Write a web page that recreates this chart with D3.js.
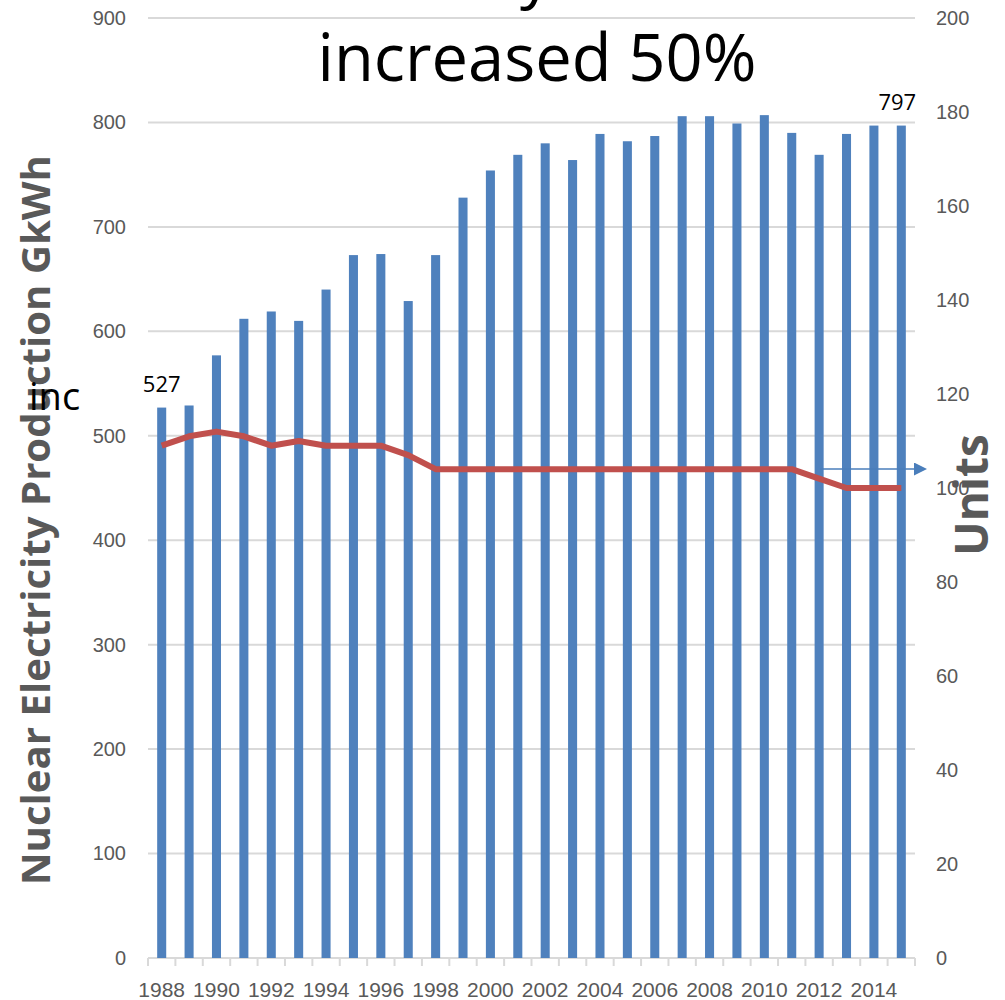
<!DOCTYPE html>
<html lang="en">
<head>
	<meta charset="UTF-8">
	<title>Nuclear production</title>
	<script src="https://cdn.jsdelivr.net/npm/d3@7"></script>
	<style>
		html,body{margin:0;padding:0;background:#fff;}
		svg{display:block;font-family:"Open Sans",sans-serif;}
		.tick text{fill:#595959;}
	</style>
</head>
<body>
	<svg id="svg" width="1005" height="1000"></svg>
	<script>
		// data
		var years = d3.range(1988, 2016);
		var production = [527, 529, 577, 612, 619, 610, 640, 673, 674, 629, 673, 728, 754, 769, 780, 764,
			789, 782, 787, 806, 806, 799, 807, 790, 769, 789, 797, 797];
		var units = [109, 111, 112, 111, 109, 110, 109, 109, 109, 107, 104, 104, 104, 104, 104, 104,
			104, 104, 104, 104, 104, 104, 104, 104, 102, 100, 100, 100];
		var leftTicks = [0, 100, 200, 300, 400, 500, 600, 700, 800, 900];
		var rightTicks = [0, 20, 40, 60, 80, 100, 120, 140, 160, 180, 200];
		var yearLabels = years.filter(function(d){ return d % 2 === 0; });

		var svg = d3.select("svg");
		var pLeft = 148, pRight = 915, pTop = 18, pBottom = 958;

		var x = d3.scaleBand().domain(years).range([pLeft, pRight]).padding(0);
		var yL = d3.scaleLinear().domain([0, 900]).range([pBottom, pTop]);
		var yR = d3.scaleLinear().domain([0, 200]).range([pBottom, pTop]);
		var bw = x.bandwidth() * 0.33;

		// gridlines
		svg.append("g").selectAll("line").data(leftTicks).enter().append("line")
			.attr("x1", pLeft).attr("x2", pRight)
			.attr("y1", function(d){ return yL(d); }).attr("y2", function(d){ return yL(d); })
			.attr("stroke", "#d9d9d9").attr("stroke-width", 2);

		// category tick marks
		svg.append("g").selectAll("line").data(years.concat([null])).enter().append("line")
			.attr("x1", function(d, i){ return pLeft + i * x.step(); })
			.attr("x2", function(d, i){ return pLeft + i * x.step(); })
			.attr("y1", pBottom).attr("y2", pBottom + 8)
			.attr("stroke", "#d9d9d9").attr("stroke-width", 2);

		// left axis
		var gl = svg.append("g").attr("transform", "translate(126,0)")
			.call(d3.axisLeft(yL).tickValues(leftTicks).tickSize(0).tickPadding(0));
		gl.select(".domain").remove();
		gl.selectAll("text").attr("font-size", 20);

		// right axis
		var gr = svg.append("g").attr("transform", "translate(936,0)")
			.call(d3.axisRight(yR).tickValues(rightTicks).tickSize(0).tickPadding(0));
		gr.select(".domain").remove();
		gr.selectAll("text").attr("font-size", 20);

		// bottom axis
		var gb = svg.append("g").attr("transform", "translate(0," + (pBottom + 18) + ")")
			.call(d3.axisBottom(x).tickValues(yearLabels).tickSize(0).tickPadding(0));
		gb.select(".domain").remove();
		gb.selectAll("text").attr("font-size", 21).attr("dy", "1em");

		// bars
		svg.append("g").selectAll("rect").data(production).enter().append("rect")
			.attr("x", function(d, i){ return x(years[i]) + x.bandwidth() / 2 - bw / 2; })
			.attr("y", function(d){ return yL(d); })
			.attr("width", bw)
			.attr("height", function(d){ return pBottom - yL(d); })
			.attr("fill", "#4f81bd");

		// units line
		var line = d3.line()
			.x(function(d, i){ return x(years[i]) + x.bandwidth() / 2; })
			.y(function(d){ return yR(d); });
		svg.append("path").datum(units)
			.attr("d", line)
			.attr("fill", "none")
			.attr("stroke", "#c0504d")
			.attr("stroke-width", 6)
			.attr("stroke-linejoin", "round");

		// data labels
		var first = 0, last = production.length - 1;
		svg.append("text")
			.attr("x", x(years[first]) + x.bandwidth() / 2).attr("y", yL(production[first]) - 16)
			.attr("text-anchor", "middle").attr("font-size", 22).attr("fill", "#000")
			.text(production[first]);
		svg.append("text")
			.attr("x", x(years[last]) + x.bandwidth() / 2 - 4).attr("y", yL(production[last]) - 16)
			.attr("text-anchor", "middle").attr("font-size", 22).attr("fill", "#000")
			.text(production[last]);

		// arrow
		var defs = svg.append("defs");
		defs.append("marker").attr("id", "arr")
			.attr("viewBox", "0 0 10 10").attr("refX", 0).attr("refY", 5)
			.attr("markerUnits", "userSpaceOnUse")
			.attr("markerWidth", 14).attr("markerHeight", 13).attr("orient", "auto")
			.append("path").attr("d", "M0,0L10,5L0,10z").attr("fill", "#4a7ebb");
		svg.append("line")
			.attr("x1", 820).attr("x2", 914).attr("y1", 469).attr("y2", 469)
			.attr("stroke", "#4a7ebb").attr("stroke-width", 1.5)
			.attr("marker-end", "url(#arr)");

		// axis titles
		svg.append("text")
			.attr("transform", "translate(50,520) rotate(-90)")
			.attr("text-anchor", "middle").attr("font-weight", "bold").attr("font-size", 40)
			.attr("fill", "#595959")
			.attr("textLength", 730).attr("lengthAdjust", "spacingAndGlyphs")
			.text("Nuclear Electricity Production GkWh");
		svg.append("text")
			.attr("transform", "translate(988,495) rotate(-90)")
			.attr("text-anchor", "middle").attr("font-weight", "bold").attr("font-size", 46)
			.attr("fill", "#595959")
			.text("Units");

		// title
		svg.append("text")
			.attr("x", 552).attr("y", -4)
			.attr("text-anchor", "end").attr("font-size", 64).attr("fill", "#000")
			.text("Efficiency");
		svg.append("text")
			.attr("x", 537).attr("y", 81)
			.attr("text-anchor", "middle").attr("font-size", 65).attr("fill", "#000")
			.text("increased 50%");

		// stray text
		svg.append("text")
			.attr("x", 29).attr("y", 410)
			.attr("font-size", 38).attr("fill", "#000")
			.text("inc");
	</script>
</body>
</html>
